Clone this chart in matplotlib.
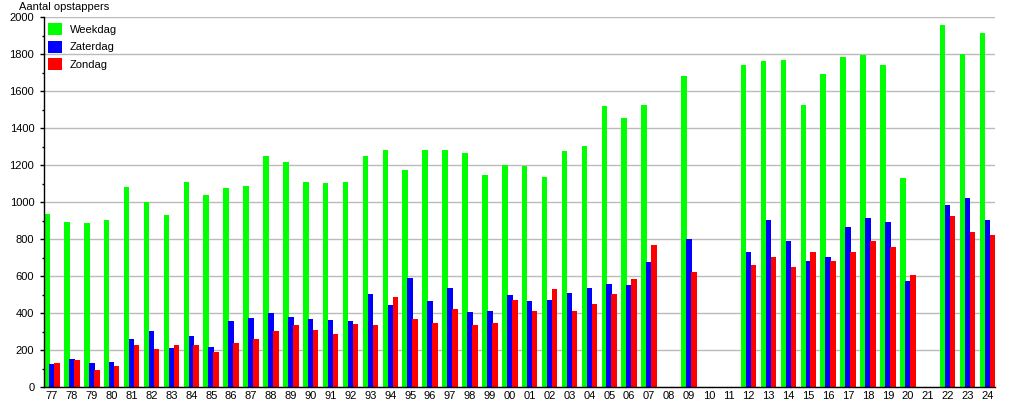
import numpy as np
import matplotlib
matplotlib.use("Agg")
import matplotlib.pyplot as plt
from matplotlib.ticker import MultipleLocator

plt.rcParams['font.family'] = ['Liberation Sans', 'DejaVu Sans']

years = ['77', '78', '79', '80', '81', '82', '83', '84', '85', '86', '87', '88',
         '89', '90', '91', '92', '93', '94', '95', '96', '97', '98', '99', '00',
         '01', '02', '03', '04', '05', '06', '07', '08', '09', '10', '11', '12',
         '13', '14', '15', '16', '17', '18', '19', '20', '21', '22', '23', '24']

weekdag = [937, 894, 888, 904, 1083, 1002, 933, 1110, 1040, 1077, 1088, 1250,
           1218, 1110, 1104, 1110, 1250, 1283, 1175, 1283, 1283, 1267, 1149, 1202,
           1198, 1137, 1277, 1304, 1520, 1456, 1526, 0, 1683, 0, 0, 1742,
           1764, 1769, 1526, 1694, 1785, 1796, 1742, 1131, 0, 1958, 1802, 1915]

zaterdag = [126, 153, 131, 137, 261, 305, 213, 278, 218, 359, 375, 402,
            380, 369, 364, 359, 505, 445, 591, 467, 537, 407, 413, 499,
            467, 472, 510, 537, 558, 553, 677, 0, 802, 0, 0, 731,
            904, 791, 683, 704, 866, 915, 893, 574, 0, 986, 1023, 904]

zondag = [131, 148, 94, 115, 229, 207, 229, 229, 191, 240, 261, 305,
          337, 310, 288, 343, 337, 488, 369, 348, 423, 337, 348, 472,
          413, 531, 413, 450, 504, 585, 769, 0, 623, 0, 0, 661,
          704, 650, 731, 683, 731, 791, 759, 607, 0, 926, 840, 823]

series = [('Weekdag', weekdag, '#00ff00'),
          ('Zaterdag', zaterdag, '#0000ff'),
          ('Zondag', zondag, '#ff0000')]

fig = plt.figure(figsize=(10.15, 4.0), dpi=100)
ax = fig.add_axes([44 / 1015, 1 - 387.3 / 400, (995 - 44) / 1015, (387.3 - 17.3) / 400])

x = np.arange(len(years))
offsets = [-0.25, 0.0, 0.25]
width = 0.28
for (name, vals, col), off in zip(series, offsets):
    ax.bar(x + off, vals, width=width, color=col, label=name, linewidth=0, zorder=3)

ax.set_xlim(-0.4, 47.38)
ax.set_ylim(0, 2000)
ax.yaxis.set_major_locator(MultipleLocator(200))
ax.yaxis.set_minor_locator(MultipleLocator(100))
ax.set_xticks(x)
ax.set_xticklabels(years)
ax.tick_params(axis='x', length=0, pad=3, labelsize=8)
ax.tick_params(axis='y', which='major', length=3, width=1, pad=4, labelsize=8, direction='out')
ax.tick_params(axis='y', which='minor', length=1.5, width=1, direction='out')
ax.grid(axis='y', which='major', color='#bbbbbb', linewidth=1, zorder=0)
ax.set_axisbelow(True)
for s in ['top', 'right']:
    ax.spines[s].set_visible(False)
for s in ['left', 'bottom']:
    ax.spines[s].set_color('black')
    ax.spines[s].set_linewidth(1)
    ax.spines[s].set_zorder(5)

leg = ax.legend(loc='upper left', bbox_to_anchor=(0.004, 0.985), frameon=False, fontsize=8,
                handlelength=1.3, handleheight=1.3, labelspacing=0.5, handletextpad=0.7,
                borderaxespad=0, borderpad=0)

fig.text(19 / 1015, 1 - 6.5 / 400, 'Aantal opstappers', fontsize=8, ha='left', va='center')

fig.savefig('out.png', dpi=100)
